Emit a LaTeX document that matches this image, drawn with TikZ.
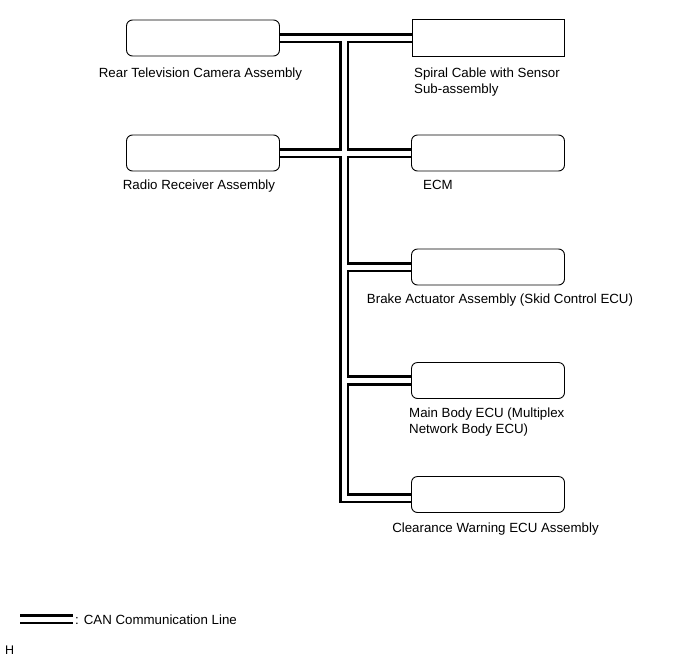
\documentclass[tikz,border=0pt]{standalone}
\usepackage{fontspec}
\setmainfont{Liberation Sans}
\newcommand\lblfont{\fontsize{13.3}{16}\selectfont}
\begin{document}
\begin{tikzpicture}[x=1pt,y=-1pt,
  box/.style={draw, line width=0.9pt, rounded corners=6pt, minimum width=153pt, minimum height=36pt, inner sep=0pt},
  sqbox/.style={draw, line width=0.9pt, minimum width=152pt, minimum height=37pt, inner sep=0pt},
  lbl/.style={font=\lblfont, inner sep=0pt, align=left},
  can/.style={draw=black, line width=2.8pt, double=white, double distance=5pt, line join=miter}]
\useasboundingbox (0,0) rectangle (690,659);

% boxes
\node[box]   (tv)     at (203,38)    {};
\node[sqbox] (spiral) at (488,38)    {};
\node[box]   (radio)  at (203,153)   {};
\node[box]   (ecm)    at (488,153)   {};
\node[box]   (brake)  at (488,267)   {};
\node[box]   (main)   at (488,380.5) {};
\node[box]   (clear)  at (488,494.5) {};

% labels
\node[lbl, anchor=base]      (tvl)     at (200.5,77) {Rear Television Camera Assembly};
\node[lbl, anchor=base west] (spirall) at (414,93)   {Spiral Cable with Sensor\\Sub-assembly};
\node[lbl, anchor=base]      (radiol)  at (199,189)  {Radio Receiver Assembly};
\node[lbl, anchor=base]      (ecml)    at (438,189)  {ECM};
\node[lbl, anchor=base]      (brakel)  at (500,303)  {Brake Actuator Assembly (Skid Control ECU)};
\node[lbl, anchor=base west] (mainl)   at (409,433)  {Main Body ECU (Multiplex\\Network Body ECU)};
\node[lbl, anchor=base]      (clearl)  at (495.5,532) {Clearance Warning ECU Assembly};

% bus
\coordinate (jtop) at (344,38);
\coordinate (jbot) at (344,498);
\draw[can] (tv.east) -- (jtop) -- (spiral.west)
  (jtop) -- (jbot) -- (clear.west |- jbot)
  (radio.east) -- (ecm.west)
  (brake.west -| jtop) -- (brake.west)
  (main.west -| jtop) -- (main.west);

% legend
\coordinate (lg1) at (20,619);
\coordinate (lg2) at (73,619);
\draw[can] (lg1) -- (lg2);
\node[lbl, anchor=base west] (lgl) at (75,624) {: CAN Communication Line};
\node[font=\fontsize{12.5}{14}\selectfont, inner sep=0pt, anchor=base west] (hl) at (5,654) {H};
\end{tikzpicture}
\end{document}
